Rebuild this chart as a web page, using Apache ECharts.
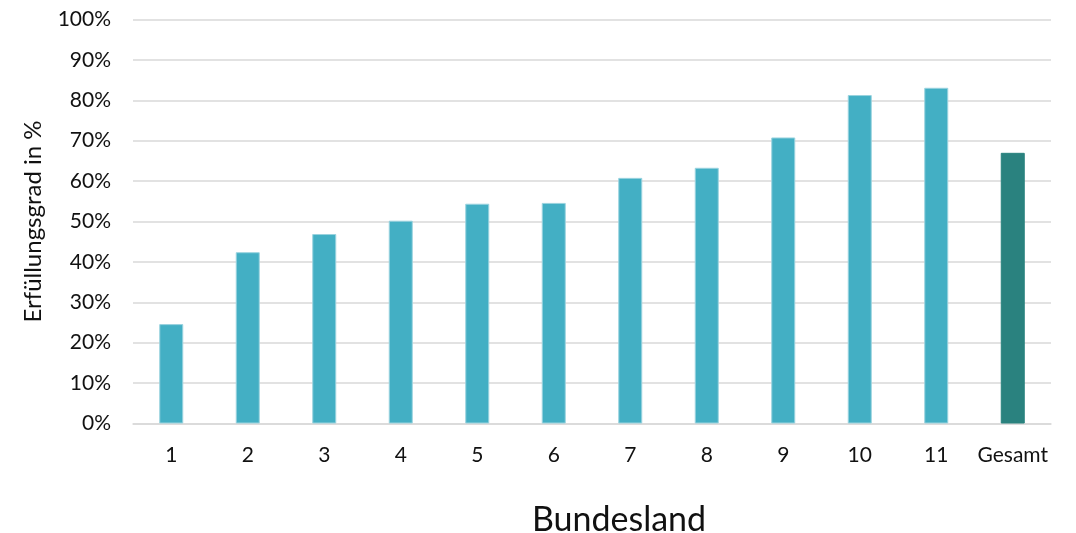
<!DOCTYPE html>
<html>
<head>
<meta charset="utf-8">
<script src="https://cdn.jsdelivr.net/npm/echarts@6/dist/echarts.min.js"></script>
<style>
  html, body { margin: 0; padding: 0; background: #ffffff; }
  #chart { width: 1076px; height: 533px; }
</style>
</head>
<body>
<div id="chart"></div>
<script>
// Categories (federal states plus overall) and fulfilment values in percent
const categories = ['1', '2', '3', '4', '5', '6', '7', '8', '9', '10', '11', 'Gesamt'];
const values = [24.6, 42.4, 46.9, 50.2, 54.4, 54.6, 60.8, 63.3, 70.8, 81.3, 83.1, 67.0];
const yTicks = [0, 10, 20, 30, 40, 50, 60, 70, 80, 90, 100];

const stateColor = '#43AFC4';
const totalColor = '#2A827F';
const fontFamily = 'Lato, "Open Sans", sans-serif';

const chart = echarts.init(document.getElementById('chart'), null, { renderer: 'canvas' });

chart.setOption({
  animation: false,
  grid: { left: 133, right: 25, top: 19.5, bottom: 109.5, containLabel: false, outerBoundsMode: 'none' },
  xAxis: {
    type: 'category',
    data: categories,
    name: 'Bundesland',
    nameLocation: 'middle',
    nameGap: 80,
    nameTextStyle: { fontFamily, fontSize: 34, color: '#111', padding: [0, 0, 0, 54] },
    axisLine: { show: true, lineStyle: { color: '#d9d9d9', width: 1.5 } },
    axisTick: { show: false },
    axisLabel: { fontFamily, fontSize: 21, color: '#111', margin: 21, interval: 0 }
  },
  yAxis: {
    type: 'value',
    min: yTicks[0],
    max: yTicks[yTicks.length - 1],
    interval: 10,
    name: 'Erfüllungsgrad in %',
    nameLocation: 'middle',
    nameGap: 88,
    nameTextStyle: { fontFamily, fontSize: 24, color: '#111' },
    axisLine: { show: false },
    axisTick: { show: false },
    axisLabel: { fontFamily, fontSize: 21, color: '#111', margin: 22, formatter: '{value}%' },
    splitLine: { lineStyle: { color: '#d9d9d9', width: 1.5 } }
  },
  series: [{
    type: 'bar',
    barWidth: 24,
    data: values.map((v, i) => ({
      value: v,
      itemStyle: {
        color: categories[i] === 'Gesamt' ? totalColor : stateColor,
        borderColor: categories[i] === 'Gesamt' ? totalColor : '#9ad3df',
        borderWidth: 1
      }
    }))
  }]
});
</script>
</body>
</html>
